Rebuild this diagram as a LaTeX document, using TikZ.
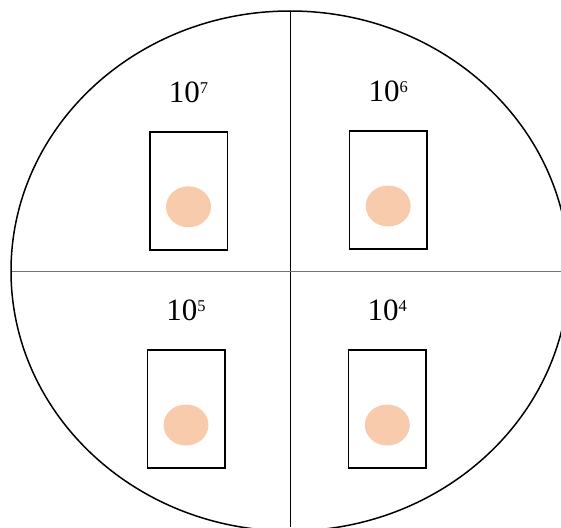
\documentclass[tikz,border=0pt]{standalone}
\usepackage{fontspec}
\setmainfont{Liberation Serif}
\usetikzlibrary{positioning, shapes.geometric}
\definecolor{spotpeach}{HTML}{F8CBAD}
\newcommand{\tenpow}[1]{10\raisebox{8.5pt}{\fontsize{16.5}{16.5}\selectfont #1}}

\begin{document}
\begin{tikzpicture}[x=1pt, y=-1pt,
    slide/.style={draw, line width=1.5pt, minimum width=77.5pt, minimum height=118pt, inner sep=0pt},
    spot/.style={ellipse, fill=spotpeach, minimum width=45pt, minimum height=41pt, inner sep=0pt},
    dilution/.style={font=\fontsize{31}{36}\selectfont, inner sep=0pt}]
    \useasboundingbox (0,0) rectangle (561,527);
    \clip (0,0) rectangle (561,527);
    \draw [line width=1.5pt] (290,271) ellipse [x radius=279, y radius=260];
    \coordinate (top) at (290,11);
    \coordinate (bottom) at (290,527);
    \coordinate (left) at (11.5,271);
    \coordinate (right) at (561,271);
    \draw [line width=1pt] (top) -- (bottom);
    \draw [line width=1pt, black!55] (left) -- (right);
    \foreach \name/\x/\y/\e in {a/188.5/190.8/7, b/388.2/190/6, c/186/409/5, d/387.3/409/4} {
        \node [slide] (slide-\name) at (\x,\y) {};
        \node [spot] (spot-\name) at ([yshift=-16pt]slide-\name.center) {};
        \node [dilution, above=29pt of slide-\name.north, anchor=base] (label-\name) {\tenpow{\e}};
    }
\end{tikzpicture}
\end{document}
